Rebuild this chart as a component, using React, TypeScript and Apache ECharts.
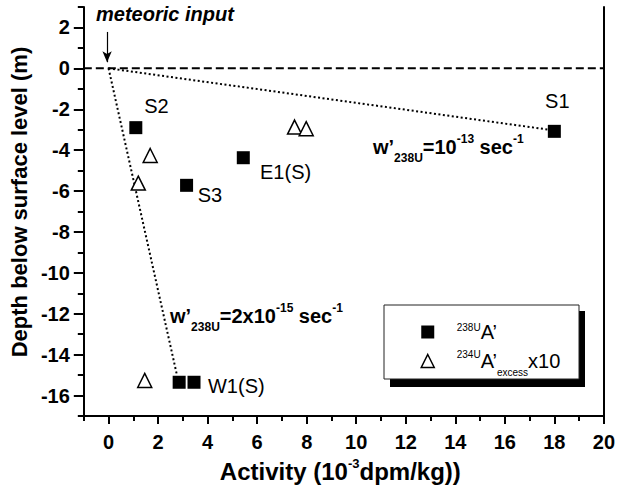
import React, { useEffect, useRef } from "react";
import * as echarts from "echarts";

// ---- data ----
const xTickLabels = [0, 2, 4, 6, 8, 10, 12, 14, 16, 18, 20];
const yTickLabels = [-16, -14, -12, -10, -8, -6, -4, -2, 0, 2];

const sampleNames = ["S2", "S3", "E1(S)", "S1", "", "W1(S)"];
const u238X = [1.1, 3.15, 5.44, 18.0, 2.85, 3.45];
const u238Y = [-2.9, -5.72, -4.37, -3.08, -15.35, -15.35];

const u234X = [1.68, 1.2, 7.51, 7.98, 1.46];
const u234Y = [-4.26, -5.61, -2.87, -2.95, -15.26];

const zeroLineX = [-1, 20];
const zeroLineY = [0, 0];
const slowFitX = [0, 17.78];
const slowFitY = [0, -3.0];
const fastFitX = [0, 2.75];
const fastFitY = [0, -14.94];
const arrowX = [-0.06, -0.06];
const arrowY = [1.78, 0.3];

const legendNames = ["238U A’", "234U A’excess x10"];

// ---- styling ----
const FONT = "'Liberation Sans', Arial, Helvetica, sans-serif";
const labelOffsets: (number[] | null)[] = [
  [20.6, -21.3],
  [23.4, 10],
  [42.3, 14.4],
  [3, -30],
  null,
  [42.3, 3.3],
];

const zip = (xs: number[], ys: number[]) => xs.map((x, i) => [x, ys[i]]);

export default function App() {
  const ref = useRef<HTMLDivElement>(null);

  useEffect(() => {
    if (!ref.current) return;
    const chart = echarts.init(ref.current, undefined, { renderer: "svg" });

    const black = "#000";
    const tickLabel = {
      color: black,
      fontSize: 20,
      fontWeight: "bold" as const,
      fontFamily: FONT,
    };

    const squareData = u238X.map((x, i) => {
      const off = labelOffsets[i];
      const item: any = { value: [x, u238Y[i]] };
      if (off && sampleNames[i]) {
        item.label = {
          show: true,
          formatter: sampleNames[i],
          position: "inside",
          offset: off,
          color: black,
          opacity: 1,
          fontSize: 20,
          fontFamily: FONT,
          align: "center",
          verticalAlign: "middle",
        };
      }
      return item;
    });

    const option: any = {
      animation: false,
      textStyle: { fontFamily: FONT, color: black },
      grid: { left: 79, right: 10, top: 7, bottom: 76, containLabel: false },
      xAxis: [
        {
          type: "value",
          min: -1,
          max: 20,
          interval: 1,
          position: "bottom",
          axisLine: { show: true, onZero: false, lineStyle: { color: black, width: 2 } },
          axisTick: {
            show: true,
            length: 8,
            customValues: xTickLabels,
            lineStyle: { color: black, width: 2 },
          },
          axisLabel: { ...tickLabel, margin: 16, customValues: xTickLabels },
          splitLine: { show: false },
          name: "Activity (10{sup|-3}dpm/kg))",
          nameLocation: "middle",
          nameGap: 32,
          nameTextStyle: {
            color: black,
            fontSize: 24,
            fontWeight: "bold",
            fontFamily: FONT,
            lineHeight: 26,
            padding: [0, 7, 0, 0],
            rich: {
              sup: {
                fontSize: 13,
                fontWeight: "bold",
                fontFamily: FONT,
                verticalAlign: "top",
                height: 10,
              },
            },
          },
        },
        {
          type: "value",
          min: -1,
          max: 20,
          interval: 1,
          position: "bottom",
          axisLine: { show: false, onZero: false },
          axisTick: { show: true, length: 5, lineStyle: { color: black, width: 2 } },
          axisLabel: { show: false },
          splitLine: { show: false },
        },
      ],
      yAxis: [
        {
          type: "value",
          min: -17,
          max: 3,
          interval: 1,
          position: "left",
          axisLine: { show: true, onZero: false, lineStyle: { color: black, width: 2 } },
          axisTick: {
            show: true,
            length: 10,
            customValues: yTickLabels,
            lineStyle: { color: black, width: 2 },
          },
          axisLabel: { ...tickLabel, margin: 14, customValues: yTickLabels },
          splitLine: { show: false },
          name: "Depth below surface level (m)",
          nameLocation: "middle",
          nameRotate: 90,
          nameGap: 44,
          nameTextStyle: {
            color: black,
            fontSize: 22,
            fontWeight: "bold",
            fontFamily: FONT,
            padding: [0, 0, 0, 19],
          },
        },
        {
          type: "value",
          min: -17,
          max: 3,
          interval: 1,
          position: "left",
          axisLine: { show: false, onZero: false },
          axisTick: { show: true, length: 6, lineStyle: { color: black, width: 2 } },
          axisLabel: { show: false },
          splitLine: { show: false },
        },
        {
          type: "value",
          min: -17,
          max: 3,
          interval: 1,
          position: "right",
          axisLine: { show: true, onZero: false, lineStyle: { color: black, width: 2 } },
          axisTick: { show: false },
          axisLabel: { show: false },
          splitLine: { show: false },
        },
      ],
      legend: {
        orient: "vertical",
        left: 420.5,
        top: 322,
        padding: 0,
        itemWidth: 13,
        itemHeight: 13,
        itemGap: 7,
        selectedMode: false,
        data: [
          {
            name: legendNames[0],
            icon: "rect",
            itemStyle: { color: black, borderWidth: 0, opacity: 1 },
            textStyle: { lineHeight: 20 },
          },
          {
            name: legendNames[1],
            icon: "triangle",
            itemStyle: { color: "#fff", borderColor: black, borderWidth: 1.5, opacity: 1 },
            textStyle: { lineHeight: 24 },
          },
        ],
        formatter: (name: string) =>
          name === legendNames[0]
            ? "{sup|238U}{big|A’}"
            : "{sup|234U}{big|A’}{sub|excess}{big|x10}",
        textStyle: {
          color: black,
          fontFamily: FONT,
          fontSize: 20,
          rich: {
            big: { fontSize: 20, fontFamily: FONT, color: black },
            sup: {
              fontSize: 10,
              fontFamily: FONT,
              color: black,
              verticalAlign: "top",
              height: 11,
              padding: [0, 0, 0, 17.5],
            },
            sub: {
              fontSize: 10,
              fontFamily: FONT,
              color: black,
              verticalAlign: "bottom",
              height: 2,
            },
          },
        },
      },
      graphic: [
        {
          type: "rect",
          z: 3,
          shape: { x: 390, y: 311, width: 195, height: 76 },
          style: { fill: black },
          silent: true,
        },
        {
          type: "rect",
          z: 3,
          shape: { x: 384, y: 305, width: 195, height: 74 },
          style: { fill: "#fff", stroke: "#222", lineWidth: 1 },
          silent: true,
        },
        {
          type: "text",
          z: 5,
          x: 96,
          y: 14,
          style: {
            text: "meteoric input",
            font: `italic bold 20px ${FONT}`,
            fill: black,
            verticalAlign: "middle",
            textVerticalAlign: "middle",
          },
        },
        {
          type: "text",
          z: 5,
          x: 373,
          y: 147,
          style: {
            text: "w’{sub|238U}=10{sup|-13} sec{sup|-1}",
            font: `bold 20px ${FONT}`,
            fill: black,
            lineHeight: 24,
            verticalAlign: "middle",
            textVerticalAlign: "middle",
            rich: {
              sub: { font: `bold 12px ${FONT}`, verticalAlign: "bottom", height: 2 },
              sup: { font: `bold 12px ${FONT}`, verticalAlign: "top", height: 7 },
            },
          },
        },
        {
          type: "text",
          z: 5,
          x: 170,
          y: 316,
          style: {
            text: "w’{sub|238U}=2x10{sup|-15} sec{sup|-1}",
            font: `bold 20px ${FONT}`,
            fill: black,
            lineHeight: 24,
            verticalAlign: "middle",
            textVerticalAlign: "middle",
            rich: {
              sub: { font: `bold 12px ${FONT}`, verticalAlign: "bottom", height: 2 },
              sup: { font: `bold 12px ${FONT}`, verticalAlign: "top", height: 7 },
            },
          },
        },
      ],
      series: [
        {
          type: "line",
          name: "zero",
          data: zip(zeroLineX, zeroLineY),
          symbol: "none",
          silent: true,
          lineStyle: { color: black, width: 2, type: [8, 4] },
          z: 1,
          markLine: {
            silent: true,
            symbol: ["none", "arrow"],
            symbolSize: [7, 11],
            label: { show: false },
            lineStyle: { color: black, width: 1.2, type: "solid" },
            data: [[{ coord: [arrowX[0], arrowY[0]] }, { coord: [arrowX[1], arrowY[1]] }]],
          },
        },
        {
          type: "line",
          name: "slow",
          data: zip(slowFitX, slowFitY),
          symbol: "none",
          silent: true,
          lineStyle: { color: black, width: 2, type: [2, 2.5] },
          z: 1,
        },
        {
          type: "line",
          name: "fast",
          data: zip(fastFitX, fastFitY),
          symbol: "none",
          silent: true,
          lineStyle: { color: black, width: 2, type: [2, 2.5] },
          z: 1,
        },
        {
          type: "scatter",
          name: legendNames[0],
          symbol: "rect",
          symbolSize: 13,
          itemStyle: { color: black, opacity: 1 },
          data: squareData,
          z: 3,
        },
        {
          type: "scatter",
          name: legendNames[1],
          symbol: "triangle",
          symbolSize: 14,
          itemStyle: { color: "#fff", borderColor: black, borderWidth: 1.5, opacity: 1 },
          data: zip(u234X, u234Y),
          z: 3,
        },
      ],
    };

    chart.setOption(option);
    return () => chart.dispose();
  }, []);

  return (
    <div
      ref={ref}
      style={{ position: "fixed", left: 0, top: 0, width: 618, height: 492, background: "#fff" }}
    />
  );
}
